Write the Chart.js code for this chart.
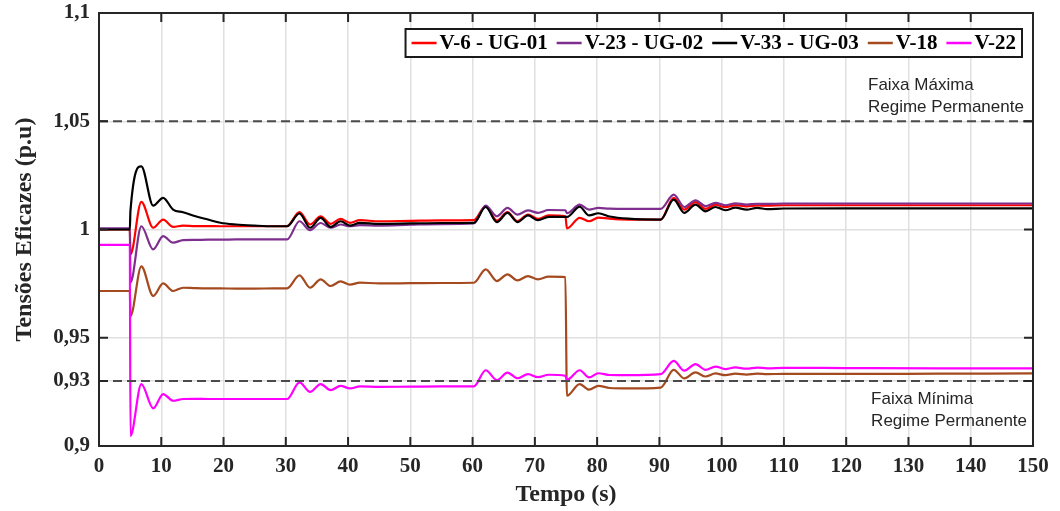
<!DOCTYPE html>
<html>
<head>
<meta charset="utf-8">
<script src="https://cdn.jsdelivr.net/npm/chart.js@4.4.1/dist/chart.umd.min.js"></script>
<style>
  html, body { margin: 0; padding: 0; background: #ffffff; }
  #wrap { width: 1060px; height: 511px; position: relative; }
</style>
</head>
<body>
<div id="wrap"><canvas id="grafico"></canvas></div>
<script>
// Instantes de amostragem (s)
const tempo = [
  0, 4.95, 5.05, 6.8, 8.7, 10.3, 11.9, 13.5, 15.5, 17.5, 19.5, 22, 25, 28,
  30.2, 32.2, 33.9, 35.6, 37.2, 38.8, 40.3, 41.9, 45, 50, 55,
  60.2, 62.1, 63.9, 65.6, 67.2, 68.9, 70.5, 72.2, 74.9,
  75.15, 77.2, 78.7, 80.2, 82, 85,
  90.2, 92.3, 94, 95.8, 97.4, 99, 100.6, 102.2, 104, 105.7, 107.3, 110, 120, 135, 150
];

// Tensões eficazes (p.u) em cada barra
const v6ug01 = [
  1.0, 1.0, 0.9885, 1.0128, 1.0008, 1.0046, 1.0012, 1.0018, 1.0016, 1.0016, 1.0015, 1.0015, 1.0015, 1.0015,
  1.0016, 1.008, 1.0023, 1.0061, 1.0026, 1.0049, 1.0031, 1.0043, 1.0038, 1.004, 1.0042,
  1.0043, 1.0108, 1.0041, 1.008, 1.0038, 1.0069, 1.0049, 1.0065, 1.0061,
  1.0005, 1.0054, 1.0038, 1.0055, 1.005, 1.0046,
  1.0046, 1.0146, 1.0092, 1.0126, 1.0095, 1.0115, 1.0103, 1.0113, 1.0107, 1.0111, 1.011, 1.0112, 1.0112, 1.0112, 1.0112
];
const v23ug02 = [
  1.0005, 1.0005, 0.9755, 1.0015, 0.9908, 0.9969, 0.9939, 0.9951, 0.9952, 0.9953, 0.9953, 0.9954, 0.9954, 0.9954,
  0.9954, 1.0038, 0.9997, 1.003, 1.0008, 1.0023, 1.0015, 1.002, 1.0018, 1.0022, 1.0025,
  1.0028, 1.011, 1.0061, 1.01, 1.0069, 1.0088, 1.0077, 1.009, 1.0089,
  1.0075, 1.0115, 1.0092, 1.01, 1.0096, 1.0095,
  1.0095, 1.0161, 1.0104, 1.0135, 1.0108, 1.0123, 1.0112, 1.0121, 1.0115, 1.0119, 1.0118, 1.012, 1.012, 1.012, 1.012
];
const v33ug03 = [
  1.0, 1.0, 1.0085, 1.0292, 1.011, 1.0146, 1.0092, 1.008, 1.0061, 1.0046, 1.0031, 1.0023, 1.0018, 1.0015,
  1.0015, 1.0074, 1.0008, 1.0054, 1.0012, 1.0038, 1.0018, 1.0031, 1.0026, 1.0028, 1.003,
  1.0031, 1.0104, 1.0034, 1.0077, 1.0034, 1.0065, 1.0043, 1.0058, 1.0058,
  1.0058, 1.0105, 1.0065, 1.0075, 1.006, 1.005,
  1.0046, 1.0138, 1.0077, 1.0115, 1.0084, 1.0104, 1.0089, 1.0101, 1.0092, 1.01, 1.0094, 1.0097, 1.0098, 1.0098, 1.0098
];
const v18 = [
  0.9716, 0.9716, 0.96, 0.983, 0.9693, 0.9751, 0.9716, 0.9731, 0.9729, 0.9728, 0.9728, 0.9727, 0.9727, 0.9728,
  0.9728, 0.9788, 0.9731, 0.977, 0.9739, 0.976, 0.9745, 0.9755, 0.9751, 0.9752, 0.9753,
  0.9754, 0.9816, 0.9762, 0.9793, 0.9765, 0.9785, 0.977, 0.9782, 0.978,
  0.9232, 0.9286, 0.926, 0.9278, 0.9268, 0.9266,
  0.927, 0.9352, 0.9312, 0.934, 0.9321, 0.9335, 0.9327, 0.9334, 0.933, 0.9334, 0.9332, 0.9333, 0.9333, 0.9334, 0.9335
];
const v22 = [
  0.9929, 0.9929, 0.9047, 0.9286, 0.9174, 0.924, 0.9209, 0.9217, 0.9218, 0.9217, 0.9217, 0.9217, 0.9217, 0.9217,
  0.9217, 0.9294, 0.925, 0.9286, 0.9258, 0.9278, 0.9266, 0.9275, 0.9273, 0.9274, 0.9275,
  0.9275, 0.935, 0.9304, 0.9339, 0.9313, 0.9332, 0.9318, 0.9329, 0.9324,
  0.9305, 0.935, 0.9317, 0.9336, 0.9328, 0.9327,
  0.9332, 0.9393, 0.9348, 0.9378, 0.9352, 0.9367, 0.9355, 0.9363, 0.9357, 0.9362, 0.9359, 0.9361, 0.936, 0.9359, 0.9359
];

const nomesSeries = ['V-6 - UG-01', 'V-23 - UG-02', 'V-33 - UG-03', 'V-18', 'V-22'];
const coresSeries = ['#ff0000', '#7e2f8e', '#000000', '#a54a1f', '#ff00ff'];

// Limites de regime permanente (p.u)
const faixaMaxima = 1.05;
const faixaMinima = 0.93;

// Marcas dos eixos
const ticksTempo = [0, 10, 20, 30, 40, 50, 60, 70, 80, 90, 100, 110, 120, 130, 140, 150];
const ticksTensao = [0.9, 0.93, 0.95, 1, 1.05, 1.1];

const fonteSerif = '"Liberation Serif", "Times New Roman", serif';
const fonteSans = '"Liberation Sans", Arial, sans-serif';
const corEixo = '#262626';

const pontos = vals => tempo.map((t, i) => ({ x: t, y: vals[i] }));
const linhaHorizontal = v => [{ x: 0, y: v }, { x: 150, y: v }];

const series = [v6ug01, v23ug02, v33ug03, v18, v22];
const datasets = series.map((vals, i) => ({
  label: nomesSeries[i],
  data: pontos(vals),
  borderColor: coresSeries[i],
  backgroundColor: coresSeries[i],
  borderWidth: 2.2,
  pointRadius: 0,
  fill: false,
  cubicInterpolationMode: 'monotone',
  order: series.length - i + 1,
  legenda: true
}));
[faixaMaxima, faixaMinima].forEach(v => datasets.push({
  label: 'faixa',
  data: linhaHorizontal(v),
  borderColor: '#4a4a4a',
  borderWidth: 2,
  borderDash: [9, 5],
  pointRadius: 0,
  fill: false,
  order: 0,
  legenda: false
}));

// Moldura com marcas internas, rótulos das faixas e legenda em caixa
const moldura = {
  id: 'moldura',
  afterDraw(chart) {
    const { ctx, chartArea: a, scales: { x, y } } = chart;
    ctx.save();

    ctx.strokeStyle = corEixo;
    ctx.lineWidth = 2;
    ctx.strokeRect(a.left, a.top, a.right - a.left, a.bottom - a.top);
    const tl = 9;
    ctx.beginPath();
    ticksTempo.forEach(t => {
      const px = x.getPixelForValue(t);
      ctx.moveTo(px, a.bottom); ctx.lineTo(px, a.bottom - tl);
      ctx.moveTo(px, a.top); ctx.lineTo(px, a.top + tl);
    });
    ticksTensao.forEach(v => {
      const py = y.getPixelForValue(v);
      ctx.moveTo(a.left, py); ctx.lineTo(a.left + tl, py);
      ctx.moveTo(a.right, py); ctx.lineTo(a.right - tl, py);
    });
    ctx.stroke();

    // Rótulos das faixas de regime permanente
    ctx.fillStyle = corEixo;
    ctx.font = '17px ' + fonteSans;
    ctx.textAlign = 'left';
    ctx.textBaseline = 'alphabetic';
    const xMax = x.getPixelForValue(123.5);
    const xMin = x.getPixelForValue(124);
    const yMax = y.getPixelForValue(faixaMaxima);
    const yMin = y.getPixelForValue(faixaMinima);
    ctx.fillText('Faixa Máxima', xMax, yMax - 31);
    ctx.fillText('Regime Permanente', xMax, yMax - 9);
    ctx.fillText('Faixa Mínima', xMin, yMin + 23);
    ctx.fillText('Regime Permanente', xMin, yMin + 45);

    // Legenda
    const itens = chart.data.datasets.filter(d => d.legenda);
    ctx.font = 'bold 21px ' + fonteSerif;
    const amostra = 25, gapTexto = 3, gapItem = 9, pad = 6;
    const larguras = itens.map(d => ctx.measureText(d.label).width);
    const total = pad * 2 + larguras.reduce((s, w) => s + w + amostra + gapTexto, 0) + gapItem * (itens.length - 1);
    const caixaDir = a.right - 11;
    const caixaTopo = a.top + 16;
    const caixaAlt = 28;
    const caixaEsq = caixaDir - total;
    ctx.fillStyle = '#ffffff';
    ctx.fillRect(caixaEsq, caixaTopo, total, caixaAlt);
    ctx.strokeStyle = '#1a1a1a';
    ctx.lineWidth = 2;
    ctx.strokeRect(caixaEsq, caixaTopo, total, caixaAlt);
    let cx = caixaEsq + pad;
    const cy = caixaTopo + caixaAlt / 2;
    ctx.textBaseline = 'middle';
    itens.forEach((d, i) => {
      ctx.strokeStyle = d.borderColor;
      ctx.lineWidth = 2.5;
      ctx.beginPath();
      ctx.moveTo(cx, cy); ctx.lineTo(cx + amostra, cy);
      ctx.stroke();
      cx += amostra + gapTexto;
      ctx.fillStyle = '#000000';
      ctx.fillText(d.label, cx, cy + 1);
      cx += larguras[i] + gapItem;
    });

    ctx.restore();
  }
};

new Chart(document.getElementById('grafico'), {
  type: 'line',
  data: { datasets },
  plugins: [moldura],
  options: {
    responsive: true,
    maintainAspectRatio: false,
    animation: false,
    events: [],
    layout: { padding: { top: 13, right: 27, left: 0, bottom: 0 } },
    plugins: { legend: { display: false }, tooltip: { enabled: false } },
    scales: {
      x: {
        type: 'linear',
        min: 0,
        max: 150,
        afterFit: s => { s.height = 65; s.paddingLeft = 0; s.paddingRight = 0; },
        afterBuildTicks: s => { s.ticks = ticksTempo.map(v => ({ value: v })); },
        grid: { color: '#e0e0e0', lineWidth: 1.5, drawTicks: false },
        border: { display: false },
        ticks: {
          autoSkip: false,
          maxRotation: 0,
          padding: 8,
          color: corEixo,
          font: { family: fonteSerif, size: 21, weight: 'bold' }
        },
        title: {
          display: true,
          text: 'Tempo (s)',
          color: corEixo,
          font: { family: fonteSerif, size: 24, weight: 'bold' },
          padding: { top: 0, bottom: 2 }
        }
      },
      y: {
        type: 'linear',
        min: 0.9,
        max: 1.1,
        afterFit: s => { s.width = 99; s.paddingTop = 0; s.paddingBottom = 0; },
        afterBuildTicks: s => { s.ticks = ticksTensao.map(v => ({ value: v })); },
        grid: { color: '#e0e0e0', lineWidth: 1.5, drawTicks: false },
        border: { display: false },
        ticks: {
          autoSkip: false,
          padding: 9,
          color: corEixo,
          font: { family: fonteSerif, size: 21, weight: 'bold' },
          callback: v => String(v).replace('.', ',')
        },
        title: {
          display: true,
          text: 'Tensões Eficazes (p.u)',
          color: corEixo,
          font: { family: fonteSerif, size: 24, weight: 'bold' },
          padding: { top: 10, bottom: 0 }
        }
      }
    }
  }
});
</script>
</body>
</html>
